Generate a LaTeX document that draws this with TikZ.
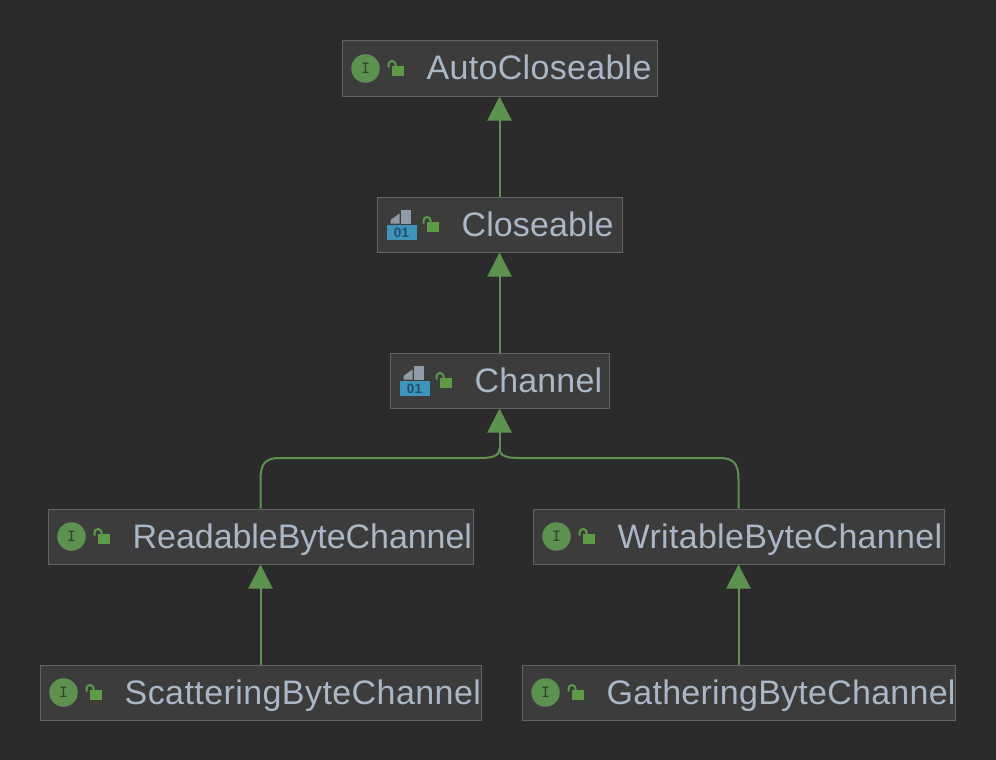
\documentclass[tikz,border=0pt]{standalone}
\usepackage{fontspec}
\setmainfont{Liberation Sans}
\usetikzlibrary{arrows.meta}
\definecolor{bgdark}{HTML}{2B2B2B}
\definecolor{boxfill}{HTML}{3C3C3C}
\definecolor{boxline}{HTML}{646464}
\definecolor{namecol}{HTML}{A9B7C6}
\definecolor{leaf}{HTML}{5C9150}
\definecolor{lockcol}{HTML}{5D9B47}
\definecolor{filegray}{HTML}{8F9BA6}
\definecolor{fileblue}{HTML}{3F94BC}
\definecolor{bluetext}{HTML}{1E4F6B}
\definecolor{itext}{HTML}{2F452B}

\begin{document}
\begin{tikzpicture}[
		x=1pt,y=-1pt,
		classbox/.style={rectangle,draw=boxline,fill=boxfill,line width=1pt,minimum height=55,inner sep=0},
		classname/.style={anchor=base west,inner sep=0,text=namecol,font=\fontsize{34}{40}\selectfont\addfontfeature{LetterSpace=#1}},
		link/.style={draw=leaf,line width=2pt},
		inherit/.style={link,-{Triangle[length=24pt,width=24pt,fill=leaf]}},
		ifaceicon/.pic={
			\node[circle,fill=leaf,minimum size=28.5,inner sep=0,text=itext,font=\fontsize{17}{17}\bfseries\ttfamily] (i) at (0,0) {I};
		},
		lockicon/.pic={
			\fill[lockcol] (-6,-2.5) rectangle (6,7.5);
			\draw[lockcol,line width=2pt] (-9,-1) -- (-9,-4) arc[start angle=180,end angle=0,x radius=3.5,y radius=-3.5] -- (-2,-2.5);
		},
		fileicon/.pic={
			\fill[filegray] (-11,-1) -- (-11,-4.5) -- (-2,-11) -- (-2,-1) -- cycle;
			\fill[filegray] (-1,-1) -- (-1,-14.5) -- (9,-14.5) -- (9,-1) -- cycle;
			\node[rectangle,fill=fileblue,minimum width=30,minimum height=15,inner sep=0,text=bluetext,font=\fontsize{13.5}{14}\bfseries] (f) at (0,8) {01};
		}]
		\fill[bgdark] (0,0) rectangle (996,760);
		\node[classbox,minimum width=315] (autocloseable) at (499.5,68.5) {};
		\node[classbox,minimum width=245] (closeable) at (499.5,224.5) {};
		\node[classbox,minimum width=219] (channel) at (499.5,380.5) {};
		\node[classbox,minimum width=425] (readable) at (260.5,536.5) {};
		\node[classbox,minimum width=411] (writable) at (738.5,536.5) {};
		\node[classbox,minimum width=441] (scattering) at (260.5,692.5) {};
		\node[classbox,minimum width=433] (gathering) at (738.5,692.5) {};
		\node[classname=0.9] (autocloseablename) at ([xshift=85,yshift=-11.5]autocloseable.west) {AutoCloseable};
		\node[classname=0.3] (closeablename) at ([xshift=85,yshift=-11.5]closeable.west) {Closeable};
		\node[classname=0.4] (channelname) at ([xshift=85,yshift=-11.5]channel.west) {Channel};
		\node[classname=-0.15] (readablename) at ([xshift=85,yshift=-11.5]readable.west) {ReadableByteChannel};
		\node[classname=0.95] (writablename) at ([xshift=85,yshift=-11.5]writable.west) {WritableByteChannel};
		\node[classname=1.25] (scatteringname) at ([xshift=85,yshift=-11.5]scattering.west) {ScatteringByteChannel};
		\node[classname=0.75] (gatheringname) at ([xshift=85,yshift=-11.5]gathering.west) {GatheringByteChannel};
		\pic (a) at ([xshift=24]autocloseable.west) {ifaceicon};
		\pic (b) at ([xshift=25]closeable.west) {fileicon};
		\pic (c) at ([xshift=25]channel.west) {fileicon};
		\pic (r) at ([xshift=24]readable.west) {ifaceicon};
		\pic (w) at ([xshift=24]writable.west) {ifaceicon};
		\pic (s) at ([xshift=24]scattering.west) {ifaceicon};
		\pic (g) at ([xshift=24]gathering.west) {ifaceicon};
		\pic at ([xshift=56]autocloseable.west) {lockicon};
		\pic at ([xshift=56]closeable.west) {lockicon};
		\pic at ([xshift=56]channel.west) {lockicon};
		\pic at ([xshift=56]readable.west) {lockicon};
		\pic at ([xshift=56]writable.west) {lockicon};
		\pic at ([xshift=56]scattering.west) {lockicon};
		\pic at ([xshift=56]gathering.west) {lockicon};
		\coordinate (fork) at ([yshift=-40]channel.south);
		\draw[inherit] (closeable) -- (autocloseable);
		\draw[inherit] (channel) -- (closeable);
		\draw[inherit] (scattering) -- (readable);
		\draw[inherit] (gathering) -- (writable);
		\draw[inherit] (fork) -- (channel);
		\draw[link] (readable.north) -- ++(0,-29) .. controls +(0,-16) and +(-14,0) .. ++(19,-21.5) -- ++(200,0) .. controls +(12,0) and +(0,8) .. (fork);
		\draw[link] (writable.north) -- ++(0,-29) .. controls +(0,-16) and +(14,0) .. ++(-19,-21.5) -- ++(-200,0) .. controls +(-12,0) and +(0,8) .. (fork);
\end{tikzpicture}
\end{document}
